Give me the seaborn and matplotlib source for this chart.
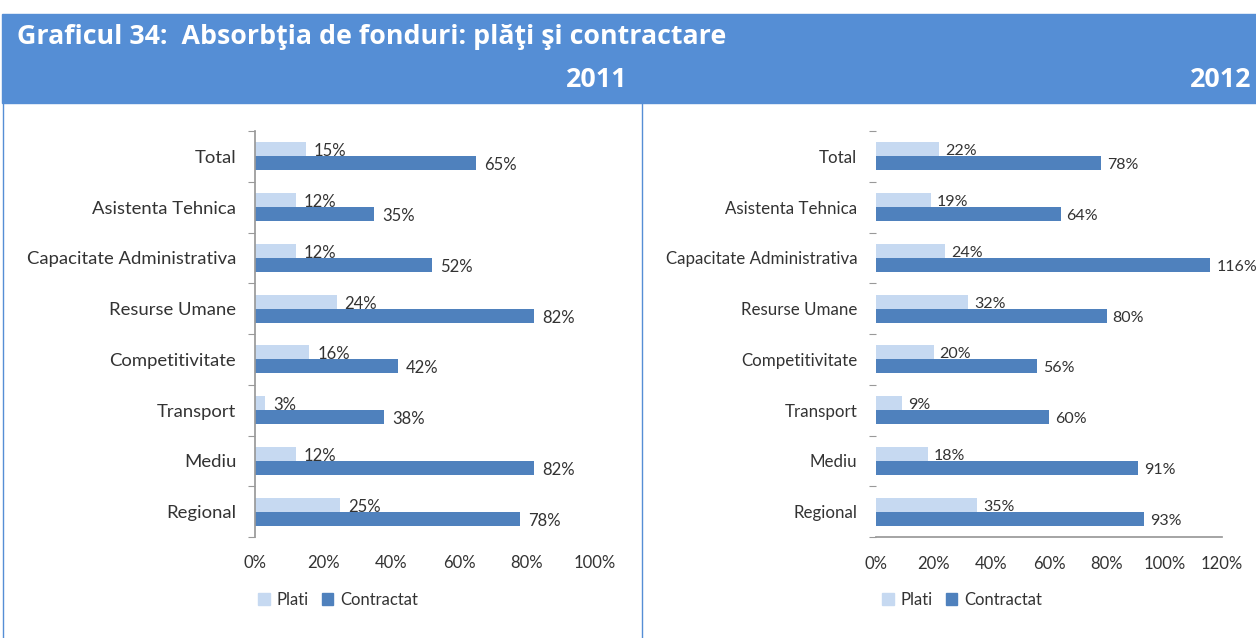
import matplotlib
matplotlib.use("Agg")
import matplotlib.pyplot as plt
import matplotlib.patches as mpatches
from matplotlib.lines import Line2D
import seaborn as sns
import pandas as pd
import numpy as np

categories = ["Total", "Asistenta Tehnica", "Capacitate Administrativa", "Resurse Umane",
              "Competitivitate", "Transport", "Mediu", "Regional"]
plati_2011 = [15, 12, 12, 24, 16, 3, 12, 25]
contractat_2011 = [65, 35, 52, 82, 42, 38, 82, 78]
plati_2012 = [22, 19, 24, 32, 20, 9, 18, 35]
contractat_2012 = [78, 64, 116, 80, 56, 60, 91, 93]
series = ["Plati", "Contractat"]
xticks_2011 = [0, 20, 40, 60, 80, 100]
xticks_2012 = [0, 20, 40, 60, 80, 100, 120]

title = "Graficul 34:  Absorbţia de fonduri: plăţi şi contractare"
years = ["2011", "2012"]

C_PLATI = "#C6D9F1"
C_CONTR = "#4F81BD"
HEADER = "#558ED5"
TXT = "#333333"

sns.set_theme(style="white")
plt.rcParams["font.family"] = ["Lato", "DejaVu Sans"]

W, H = 1256, 638
fig = plt.figure(figsize=(W / 100, H / 100), dpi=100)

def fx(px):
    return px / W

def fy(py):
    return 1 - py / H

# header band
fig.patches.append(mpatches.Rectangle((fx(2), fy(103)), fx(W - 2), (103 - 14) / H,
                                      transform=fig.transFigure, color=HEADER, zorder=0))
fig.text(fx(17), fy(37), title, color="white", fontsize=19.3, fontweight="bold",
         va="center", ha="left", family=["Open Sans", "DejaVu Sans"])
fig.text(fx(627), fy(80), years[0], color="white", fontsize=19.3, fontweight="bold",
         va="center", ha="right", family=["Open Sans", "DejaVu Sans"])
fig.text(fx(1251), fy(80), years[1], color="white", fontsize=19.3, fontweight="bold",
         va="center", ha="right", family=["Open Sans", "DejaVu Sans"])
# vertical frame lines
fig.add_artist(Line2D([fx(2.5), fx(2.5)], [fy(103), 0], transform=fig.transFigure, color=HEADER, lw=1))
fig.add_artist(Line2D([fx(642), fx(642)], [fy(103), 0], transform=fig.transFigure, color=HEADER, lw=1))

panels = [
    dict(plati=plati_2011, contr=contractat_2011, ticks=xticks_2011, left=255, right=595,
         vspine=True, hspine=False, legx=338, ysize=13.3, xpad=9, lsize=12, loff=8),
    dict(plati=plati_2012, contr=contractat_2012, ticks=xticks_2012, left=876, right=1222,
         vspine=False, hspine=True, legx=962, ysize=12.2, xpad=10, lsize=11.5, loff=6),
]

top_px, bot_px = 131, 537
for p in panels:
    ax = fig.add_axes([fx(p["left"]), fy(bot_px), fx(p["right"] - p["left"]), (bot_px - top_px) / H])
    df = pd.DataFrame({
        "Categorie": categories * 2,
        "Serie": [series[0]] * len(categories) + [series[1]] * len(categories),
        "Valoare": list(p["plati"]) + list(p["contr"]),
    })
    sns.barplot(data=df, y="Categorie", x="Valoare", hue="Serie", orient="h",
                palette=[C_PLATI, C_CONTR], width=0.55, ax=ax, legend=False,
                saturation=1, edgecolor="none")
    ax.set_xlim(0, p["ticks"][-1])
    ax.set_ylim(len(categories) - 0.5, -0.5)
    ax.set_xticks(p["ticks"])
    ax.set_xticklabels([f"{t}%" for t in p["ticks"]])
    ax.set_xlabel("")
    ax.set_ylabel("")
    ax.tick_params(axis="y", which="major", length=0, pad=13.5, labelsize=p["ysize"], labelcolor=TXT)
    ax.tick_params(axis="x", which="major", length=4, width=0.8, color="#999999",
                   direction="out", pad=p["xpad"], labelsize=12, labelcolor=TXT)
    ax.set_yticks(np.arange(-0.5, len(categories), 1), minor=True)
    ax.tick_params(axis="y", which="minor", length=5, width=0.8, color="#999999", left=True)
    for s in ["top", "right"]:
        ax.spines[s].set_visible(False)
    ax.spines["left"].set_visible(p["vspine"])
    ax.spines["bottom"].set_visible(p["hspine"])
    ax.spines["left"].set_color("#999999")
    ax.spines["bottom"].set_color("#999999")
    for cont, vals in zip(ax.containers, [p["plati"], p["contr"]]):
        for patch, v in zip(cont, vals):
            ax.annotate(f"{v}%", (patch.get_width(), patch.get_y() + patch.get_height() / 2),
                        xytext=(p["loff"], -2), textcoords="offset pixels", va="center", ha="left",
                        fontsize=p["lsize"], color=TXT, annotation_clip=False)
    handles = [mpatches.Patch(color=C_PLATI, label=series[0]),
               mpatches.Patch(color=C_CONTR, label=series[1])]
    fig.legend(handles=handles, loc="center", bbox_to_anchor=(fx(p["legx"]), fy(600)),
               ncol=2, frameon=False, fontsize=12, handlelength=0.7, handleheight=0.7,
               handletextpad=0.4, columnspacing=0.8, labelcolor=TXT)

fig.savefig("out.png", dpi=100)
